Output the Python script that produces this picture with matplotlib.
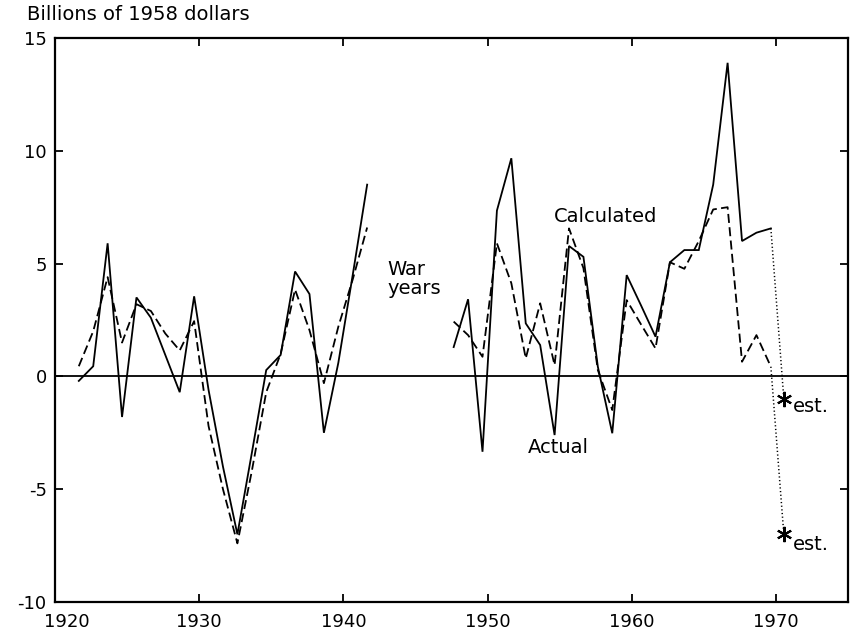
import matplotlib
matplotlib.use("Agg")
import matplotlib.pyplot as plt
import matplotlib.transforms as mtransforms
import numpy as np

plt.rcParams['font.family'] = ['DejaVu Sans']

# Data (billions of 1958 dollars); values plotted at mid-year
years_a = list(range(1921, 1942))
actual_a = [-0.2, 0.45, 5.9, -1.8, 3.5, 2.6, 0.95, -0.7, 3.55, -0.6, -4.0,
            -7.0, -3.4, 0.28, 0.95, 4.65, 3.65, -2.5, 0.6, 4.5, 8.5]
calc_a = [0.45, 2.0, 4.4, 1.5, 3.2, 2.9, 1.9, 1.15, 2.45, -2.2, -5.0,
          -7.4, -4.2, -0.7, 1.0, 3.85, 2.05, -0.3, 2.2, 4.3, 6.6]

years_b = list(range(1947, 1970))
actual_b = [1.3, 3.42, -3.34, 7.35, 9.67, 2.35, 1.39, -2.6, 5.78, 5.3, 0.43,
            -2.52, 4.49, 3.14, 1.76, 5.06, 5.6, 5.6, 8.5, 13.9, 6.0, 6.37, 6.56]
calc_b = [2.43, 1.83, 0.87, 5.9, 4.13, 0.8, 3.24, 0.5, 6.56, 4.8, 0.28,
          -1.49, 3.38, 2.3, 1.24, 5.06, 4.77, 6.0, 7.4, 7.5, 0.65, 1.83, 0.43]

est_year = 1970
actual_est = -1.0
calc_est = -7.0

xticks = [1920, 1930, 1940, 1950, 1960, 1970]
yticks = [-10, -5, 0, 5, 10, 15]

MID = 0.65

fig = plt.figure(figsize=(8.55, 6.37), dpi=100)
ax = fig.add_axes([55/855, 1 - 602/637, (848-55)/855, (602-38)/637])

xa = np.array(years_a) + MID
xb = np.array(years_b) + MID
xe = est_year + MID - 0.1

lw_s = 1.3
ax.plot(xa, actual_a, color='black', lw=lw_s, solid_joinstyle='miter')
ax.plot(xb, actual_b, color='black', lw=lw_s, solid_joinstyle='miter')
ax.plot(xa, calc_a, color='black', lw=1.3, dashes=(5, 2.4))
ax.plot(xb, calc_b, color='black', lw=1.3, dashes=(5, 2.4))

# dotted extensions to estimates
ax.plot([xb[-1], xe], [actual_b[-1], actual_est], color='black', lw=1.1,
        linestyle=(0, (0.8, 1.6)))
ax.plot([xb[-1], xe], [calc_b[-1], calc_est], color='black', lw=1.1,
        linestyle=(0, (0.8, 1.6)))
ax.plot([xe, xe], [actual_est, calc_est], linestyle='none', marker=(6, 2, 0),
        markersize=11, mew=1.5, color='black')

ax.axhline(0, color='black', lw=1.3)

ax.set_xlim(1920, 1975)
ax.set_ylim(-10, 15)
ax.set_xticks(xticks)
ax.set_yticks(yticks)
ax.set_yticklabels([str(v) if v >= 0 else '-' + str(-v) for v in yticks])
ax.tick_params(direction='in', length=6, width=1.3, top=True, right=True,
               labelsize=13, colors='black')
ax.tick_params(axis='x', pad=8)
ax.tick_params(axis='y', pad=6)
for sp in ax.spines.values():
    sp.set_linewidth(1.6)

# shift the 1920 label right as in the original
lbl = ax.get_xticklabels()[0]
lbl.set_transform(lbl.get_transform() + mtransforms.ScaledTranslation(12/100, 0, fig.dpi_scale_trans))

fs = 14
fig.text(27/855, 1 - 15/637, 'Billions of 1958 dollars', fontsize=fs,
         ha='left', va='center')
ax.text(1943.05, 4.32, 'War\nyears', fontsize=fs, ha='left', va='center',
        linespacing=0.95)
ax.text(1954.58, 7.07, 'Calculated', fontsize=fs, ha='left', va='center')
ax.text(1952.78, -3.13, 'Actual', fontsize=fs, ha='left', va='center')
ax.text(1971.2, -1.35, 'est.', fontsize=fs, ha='left', va='center')
ax.text(1971.2, -7.45, 'est.', fontsize=fs, ha='left', va='center')

fig.savefig('out.png', dpi=100)
